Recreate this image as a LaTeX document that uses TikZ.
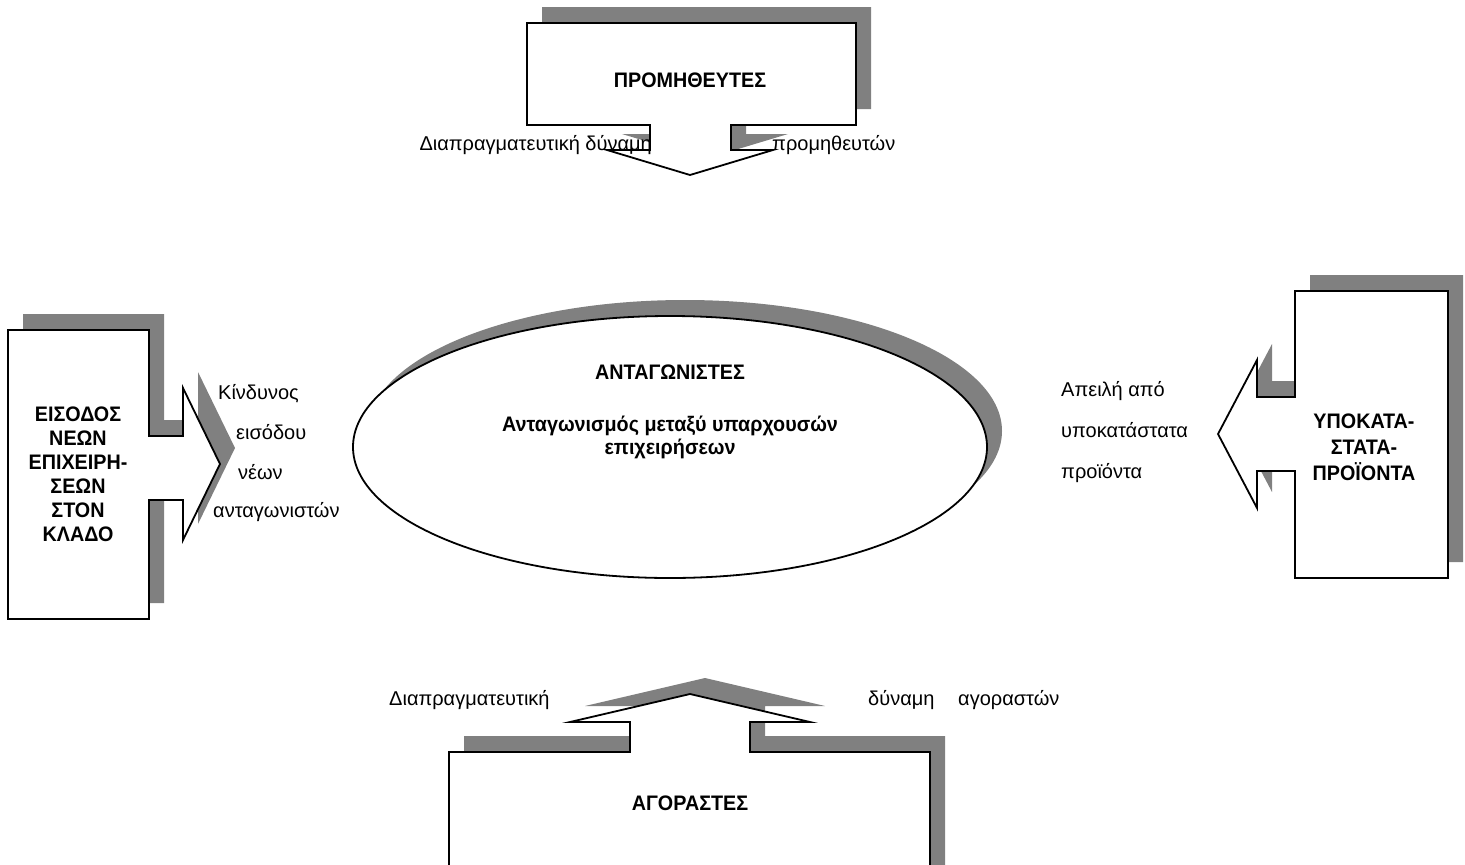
\documentclass[tikz,border=0pt]{standalone}
\usepackage{fontspec}
\setmainfont{Liberation Sans}[BoldFeatures={FakeStretch=0.94}]
\usetikzlibrary{shapes.geometric}
\definecolor{shadowgray}{RGB}{128,128,128}
\begin{document}
\begin{tikzpicture}[x=1pt,y=-1pt,
  shadowfill/.style={fill=shadowgray,draw=none},
  outline/.style={fill=white,draw=black,line width=1.8pt,line join=miter},
  boxtitle/.style={font=\fontsize{21}{24}\selectfont\bfseries,align=center,inner sep=0pt},
  lbl/.style={font=\fontsize{20}{23}\selectfont,inner sep=0pt}]
\useasboundingbox (0,0) rectangle (1465,865);
\clip (0,0) rectangle (1465,865);

% ---------- central ellipse ----------
\node[ellipse, shadowfill, minimum width=634pt, minimum height=262pt, inner sep=0pt] (compsh) at (685,431) {};
\node[ellipse, outline, minimum width=634pt, minimum height=262pt, inner sep=0pt] (comp) at (670,447) {};

% ---------- top callout (suppliers) ----------
\begin{scope}[shift={(15,-16)}]
\fill[shadowgray] (527,23) -- (856,23) -- (856,125) -- (731,125) -- (731,150) -- (773,150) -- (690,175) -- (607,150) -- (650,150) -- (650,125) -- (527,125) -- cycle;
\end{scope}
\draw[outline] (527,23) -- (856,23) -- (856,125) -- (731,125) -- (731,150) -- (773,150) -- (690,175) -- (607,150) -- (650,150) -- (650,125) -- (527,125) -- cycle;

% ---------- left callout (new entrants) ----------
\begin{scope}[shift={(15,-16)}]
\fill[shadowgray] (8,330) -- (149,330) -- (149,436) -- (183,436) -- (183,388) -- (220,464) -- (183,540) -- (183,500) -- (149,500) -- (149,619) -- (8,619) -- cycle;
\end{scope}
\draw[outline] (8,330) -- (149,330) -- (149,436) -- (183,436) -- (183,388) -- (220,464) -- (183,540) -- (183,500) -- (149,500) -- (149,619) -- (8,619) -- cycle;

% ---------- right callout (substitutes) ----------
\begin{scope}[shift={(15,-16)}]
\fill[shadowgray] (1295,291) -- (1448,291) -- (1448,578) -- (1295,578) -- (1295,471) -- (1257,471) -- (1257,508) -- (1218,434) -- (1257,360) -- (1257,397) -- (1295,397) -- cycle;
\end{scope}
\draw[outline] (1295,291) -- (1448,291) -- (1448,578) -- (1295,578) -- (1295,471) -- (1257,471) -- (1257,508) -- (1218,434) -- (1257,360) -- (1257,397) -- (1295,397) -- cycle;

% ---------- bottom callout (buyers) ----------
\begin{scope}[shift={(15,-16)}]
\fill[shadowgray] (449,752) -- (630,752) -- (630,722) -- (570,722) -- (690,694) -- (810,722) -- (750,722) -- (750,752) -- (930,752) -- (930,890) -- (449,890) -- cycle;
\end{scope}
\draw[outline] (449,752) -- (630,752) -- (630,722) -- (570,722) -- (690,694) -- (810,722) -- (750,722) -- (750,752) -- (930,752) -- (930,890) -- (449,890) -- cycle;

% ---------- texts ----------
\node[boxtitle] (compT) at (670,372) {ΑΝΤΑΓΩΝΙΣΤΕΣ};
\node[boxtitle, font=\fontsize{21}{23}\selectfont\bfseries] (compS) at (670,437) {Ανταγωνισμός μεταξύ υπαρχουσών\\επιχειρήσεων};

\node[boxtitle] (sup) at (690,80) {ΠΡΟΜΗΘΕΥΤΕΣ};
\node[lbl, anchor=base east] (supL) at (652,150) {Διαπραγματευτική δύναμη};
\node[lbl, anchor=base west] (supR) at (772,150) {προμηθευτών};

\node[boxtitle] (entr) at (78,474) {ΕΙΣΟΔΟΣ\\ΝΕΩΝ\\ΕΠΙΧΕΙΡΗ-\\ΣΕΩΝ\\ΣΤΟΝ\\ΚΛΑΔΟ};
\node[lbl, anchor=base west] (entA) at (218,399) {Κίνδυνος};
\node[lbl, anchor=base west] (entB) at (236,439) {εισόδου};
\node[lbl, anchor=base west] (entC) at (238,479) {νέων};
\node[lbl, anchor=base west] (entD) at (213,517) {ανταγωνιστών};

\node[boxtitle, font=\fontsize{21}{26}\selectfont\bfseries] (subs) at (1364,447) {ΥΠΟΚΑΤΑ-\\ΣΤΑΤΑ-\\ΠΡΟΪΟΝΤΑ};
\node[lbl, anchor=base west] (subA) at (1061,396) {Απειλή από};
\node[lbl, anchor=base west] (subB) at (1061,437) {υποκατάστατα};
\node[lbl, anchor=base west] (subC) at (1061,478) {προϊόντα};

\node[boxtitle] (buy) at (690,803) {ΑΓΟΡΑΣΤΕΣ};
\node[lbl, anchor=base west] (buyA) at (389,705) {Διαπραγματευτική};
\node[lbl, anchor=base west] (buyB) at (868,705) {δύναμη};
\node[lbl, anchor=base west] (buyC) at (958,705) {αγοραστών};
\end{tikzpicture}
\end{document}
